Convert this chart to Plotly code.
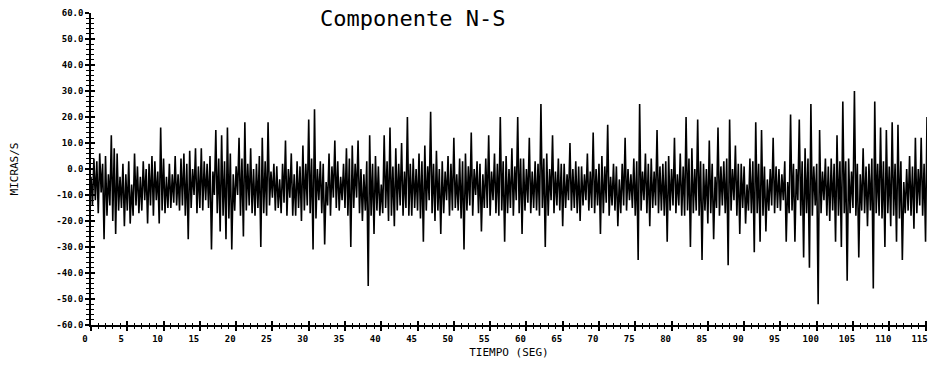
import numpy as np
import plotly.graph_objects as go

# Ground-velocity record, N-S component, sampled every 0.2 s (one row = 4 s)
SAMPLE_INTERVAL = 0.2  # s

velocity = [
    -3, -14, 4, -12, 3, -17, 6, -9, 2, -27, 5, -18, -2, -14, 13, -20, 8, -25, 6, -16,
    -3, -15, 2, -22, -2, -16, 3, -21, -6, -18, 6, -14, 1, -17, -3, -16, 3, -12, 0, -21,
    2, -14, 5, -18, 3, -12, -1, -21, 16, -16, 4, -17, -3, -15, 2, -15, -2, -13, 5, -14,
    -2, -16, 4, -14, 6, -18, 2, -27, 7, -15, 0, -10, 8, -17, 1, -15, 8, -16, 3, -12,
    2, -15, 5, -31, -1, -10, 15, -17, 4, -24, 13, -18, 3, -27, 16, -19, 6, -31, -2, -16,
    1, -10, 12, -18, 4, -26, 18, -16, 2, -14, 8, -17, 0, -18, 2, -15, 5, -30, 12, -17,
    3, -18, 18, -14, -1, -11, 2, -16, 1, -15, -4, -17, 2, -13, 11, -18, 0, -11, 6, -18,
    -2, -18, 3, -15, 1, -20, 9, -16, 2, -14, 19, -17, 4, -31, 23, -19, 0, -12, 3, -17,
    2, -29, -5, -14, 6, -18, 1, -11, 11, -15, 3, -16, -3, -12, 2, -15, 8, -18, 4, -30,
    9, -15, 2, -11, 11, -17, 0, -20, -2, -16, 3, -45, 13, -18, 2, -25, 5, -16, 1, -18,
    -6, -17, 13, -15, 3, -20, 16, -18, 1, -22, 8, -16, 2, -14, 10, -18, -1, -15, 20, -18,
    2, -18, 4, -15, 0, -16, 6, -19, 3, -28, 9, -16, 1, -12, 22, -17, 2, -20, 7, -16,
    0, -25, 3, -17, -1, -12, 5, -18, 2, -16, 12, -15, -2, -16, 4, -19, 3, -31, 6, -16,
    1, -14, 14, -18, 0, -10, 3, -17, 2, -24, -2, -15, 4, -15, 13, -18, -1, -12, 6, -17,
    2, -18, 20, -16, 3, -28, 5, -17, 0, -15, 8, -18, 1, -12, 20, -17, 4, -25, 4, -16,
    0, -13, 12, -17, -1, -15, 3, -16, 2, -18, 25, -15, 4, -30, 6, -18, 0, -12, 13, -17,
    -1, -14, 4, -16, 2, -22, 2, -15, -2, -12, 10, -16, 0, -15, 3, -17, 1, -20, 1, -14,
    -2, -12, 6, -16, -1, -15, 14, -17, 0, -14, 2, -25, 5, -17, 1, -13, 17, -18, -3, -14,
    2, -16, 1, -22, -4, -17, 2, -14, 12, -16, 0, -12, -2, -15, 4, -18, 3, -35, 25, -16,
    -1, -12, 6, -17, 2, -22, 4, -15, -1, -14, 15, -17, 1, -16, 2, -18, 3, -28, 5, -16,
    0, -14, 12, -17, -2, -14, 6, -18, 1, -18, 20, -16, 4, -30, 8, -17, 0, -16, 19, -18,
    3, -35, 2, -16, 0, -21, 11, -17, 2, -27, -3, -15, 16, -18, 1, -14, 3, -17, 4, -37,
    19, -16, 0, -12, 9, -18, 2, -25, 2, -15, 1, -21, -6, -16, 4, -17, 3, -32, 18, -17,
    2, -28, 15, -18, 1, -24, -4, -16, 0, -14, 12, -17, 1, -15, 0, -16, -2, -12, 3, -28,
    -5, -17, 21, -16, 2, -28, 0, -12, 19, -18, 3, -34, 8, -17, 4, -38, 25, -18, 1, -14,
    2, -52, 15, -17, -1, -12, 4, -18, 1, -20, 4, -16, 2, -28, 13, -18, 3, -30, 26, -17,
    3, -43, 4, -17, -1, -15, 30, -18, 2, -34, -2, -16, 8, -17, 1, -22, 2, -16, 4, -46,
    26, -17, 2, -18, 16, -19, 3, -30, 15, -17, 1, -22, 18, -18, 2, -28, 17, -19, 3, -35,
    -5, -17, 0, -16, 5, -18, 1, -23, 12, -17, 0, -14, 12, -18, 2, -28, 20, -16, -8, -14,
]

time_s = np.arange(len(velocity)) * SAMPLE_INTERVAL

y_ticks = list(range(-60, 61, 10))
y_tick_text = [f"{v:.1f}" for v in y_ticks]
x_ticks = list(range(0, 116, 5))
x_tick_text = [str(v) for v in x_ticks]

X_RANGE = [0, 115.2]
Y_RANGE = [-60, 60]

mono = "DejaVu Sans Mono"
tick_font = dict(family=mono, size=9, color="black", weight="bold")

fig = go.Figure()
fig.add_trace(go.Scatter(
    x=time_s, y=velocity, mode="lines",
    line=dict(color="black", width=1.6),
    showlegend=False, hoverinfo="skip",
))
# empty trace that carries the inner tick marks of the overlay axes
fig.add_trace(go.Scatter(x=[], y=[], xaxis="x2", yaxis="y2", showlegend=False))

fig.update_layout(
    width=930, height=368,
    margin=dict(l=91, r=3, t=13, b=43),
    paper_bgcolor="white", plot_bgcolor="white",
    font=dict(family=mono, color="black"),
    xaxis=dict(
        range=X_RANGE, showgrid=False, zeroline=False,
        showline=True, linecolor="black", linewidth=1.5,
        tickmode="array", tickvals=x_ticks, ticktext=x_tick_text,
        ticks="outside", ticklen=4, tickwidth=1.5, tickcolor="black",
        minor=dict(dtick=1, ticks="outside", ticklen=2, tickwidth=1.2, tickcolor="black"),
        tickfont=tick_font, ticklabelshift=-6, ticklabelstandoff=0,
        title=dict(text="TIEMPO (SEG)", font=dict(family=mono, size=11, color="black"), standoff=6),
    ),
    yaxis=dict(
        range=Y_RANGE, showgrid=False, zeroline=False,
        showline=True, linecolor="black", linewidth=1.5,
        tickmode="array", tickvals=y_ticks, ticktext=y_tick_text,
        ticks="outside", ticklen=4, tickwidth=1.5, tickcolor="black",
        minor=dict(dtick=2, ticks="outside", ticklen=3, tickwidth=1.2, tickcolor="black"),
        tickfont=tick_font, ticklabelstandoff=0,
        title=dict(text="MICRAS/S", font=dict(family=mono, size=11, color="black"), standoff=36),
    ),
    xaxis2=dict(
        overlaying="x", matches="x", range=X_RANGE, side="bottom", anchor="y2",
        showgrid=False, zeroline=False, showline=False, showticklabels=False,
        tickmode="array", tickvals=x_ticks,
        ticks="inside", ticklen=4, tickwidth=1.5, tickcolor="black",
        minor=dict(dtick=1, ticks="inside", ticklen=2, tickwidth=1.2, tickcolor="black"),
    ),
    yaxis2=dict(
        overlaying="y", range=Y_RANGE, side="left", anchor="x2",
        showgrid=False, zeroline=False, showline=False, showticklabels=False,
        tickmode="array", tickvals=y_ticks,
        ticks="inside", ticklen=4, tickwidth=1.5, tickcolor="black",
        minor=dict(dtick=2, ticks="inside", ticklen=3, tickwidth=1.2, tickcolor="black"),
    ),
    annotations=[dict(
        text="Componente N-S", xref="paper", yref="paper",
        x=(412 - 91) / 836, y=1.0, xanchor="center", yanchor="top", yshift=9,
        showarrow=False, font=dict(family=mono, size=22, color="black"),
    )],
)

fig.write_html("out.html")
